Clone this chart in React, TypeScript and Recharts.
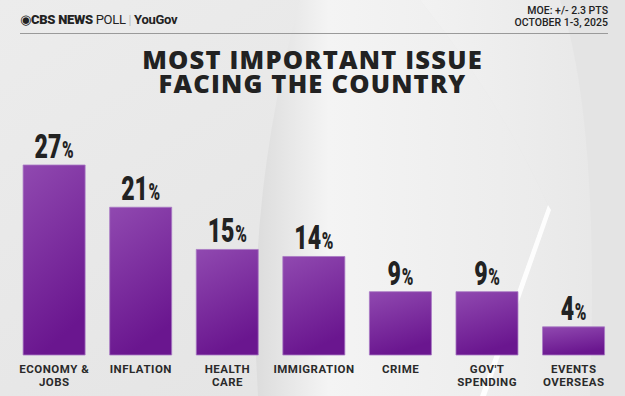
import React from 'react';
import { BarChart, Bar, XAxis, YAxis, LabelList } from 'recharts';

// Most important issue facing the country, CBS News poll Oct 1-3, 2025
const categories = ['ECONOMY &|JOBS', 'INFLATION', 'HEALTH|CARE', 'IMMIGRATION', 'CRIME', "GOV'T|SPENDING", 'EVENTS|OVERSEAS'];
const shares = [27, 21, 15, 14, 9, 9, 4];

const data = categories.map((name, i) => ({ name, value: shares[i] }));

const W = 625;
const H = 396;
const INK = '#222222';

function CategoryTick(props: any) {
  const { x, y, payload } = props;
  const lines = String(payload.value).split('|');
  return (
    <text
      x={x}
      y={y}
      textAnchor="middle"
      fill="#2a2a2a"
      fontFamily="Roboto, 'DejaVu Sans', sans-serif"
      fontWeight={700}
      fontSize={11.5}
      letterSpacing={0.5}
    >
      {lines.map((l, i) => (
        <tspan key={i} x={x} dy={i === 0 ? 10 : 12.5}>
          {l}
        </tspan>
      ))}
    </text>
  );
}

function PctLabel(props: any) {
  const { x, y, width, value } = props;
  const cx = x + width / 2;
  return (
    <g transform={`translate(${cx},${y - 7}) scale(0.68,1)`}>
      <text
        x={0}
        y={0}
        textAnchor="middle"
        fill={INK}
        fontFamily="Roboto, 'DejaVu Sans', sans-serif"
        fontWeight={900}
      >
        <tspan fontSize={34}>{value}</tspan>
        <tspan fontSize={23} dx={1}>%</tspan>
      </text>
    </g>
  );
}

function Backdrop() {
  return (
    <svg width={W} height={H} style={{ position: 'absolute', left: 0, top: 0 }}>
      <defs>
        <linearGradient id="bg" x1="0" y1="0" x2="1" y2="1">
          <stop offset="0%" stopColor="#ececec" />
          <stop offset="100%" stopColor="#e2e2e2" />
        </linearGradient>
        <linearGradient id="band" x1="0" y1="0" x2="1" y2="0">
          <stop offset="0%" stopColor="#dcdcdc" />
          <stop offset="25%" stopColor="#f4f4f4" />
          <stop offset="100%" stopColor="#ebebeb" />
        </linearGradient>
        <linearGradient id="right" x1="0" y1="0" x2="1" y2="0">
          <stop offset="0%" stopColor="#f2f2f2" />
          <stop offset="100%" stopColor="#e6e6e6" />
        </linearGradient>
      </defs>
      <rect width={W} height={H} fill="url(#bg)" />
      <path d="M300,0 Q245,200 258,396 L480,396 L548,205 Q500,100 420,0 Z" fill="url(#band)" />
      <path d="M420,0 Q500,100 548,205 L480,396 L625,396 L625,0 Z" fill="url(#right)" />
      <path d="M560,0 Q600,120 590,396 L625,396 L625,0 Z" fill="#e4e4e4" />
      <path d="M548,205 L480,396 L486,396 L551,210 Z" fill="#ffffff" opacity={0.9} />
    </svg>
  );
}

export default function App() {
  return (
    <div style={{ position: 'relative', width: W, height: H, overflow: 'hidden' }}>
      <style>{'body{margin:0}'}</style>
      <Backdrop />
      {/* header */}
      <div
        style={{
          position: 'absolute',
          left: 20,
          top: 12,
          fontFamily: "Roboto, 'DejaVu Sans', sans-serif",
          fontSize: 13,
          color: '#222',
          whiteSpace: 'nowrap',
          letterSpacing: -0.3,
        }}
      >
        <span style={{ fontWeight: 900 }}>◉CBS NEWS</span>
        <span style={{ fontWeight: 400 }}> POLL </span>
        <span style={{ color: '#aaa', fontWeight: 300 }}>|</span>
        <span style={{ fontWeight: 700 }}> YouGov</span>
      </div>
      <div
        style={{
          position: 'absolute',
          right: 17,
          top: 5,
          textAlign: 'right',
          fontFamily: "Roboto, 'DejaVu Sans', sans-serif",
          fontSize: 10.5,
          fontWeight: 500,
          lineHeight: '12px',
          color: '#222',
        }}
      >
        <div>MOE: +/- 2.3 PTS</div>
        <div>OCTOBER 1-3, 2025</div>
      </div>
      <div style={{ position: 'absolute', left: 20, top: 33, width: 588, height: 1, background: '#9a9a9a' }} />
      <div
        style={{
          position: 'absolute',
          left: 0,
          top: 47,
          width: W,
          textAlign: 'center',
          fontFamily: "'Open Sans', Roboto, sans-serif",
          fontWeight: 800,
          fontSize: 25.5,
          letterSpacing: 1.2,
          lineHeight: '24px',
          color: INK,
        }}
      >
        MOST IMPORTANT ISSUE
        <br />
        FACING THE COUNTRY
      </div>
      <BarChart
        width={W}
        height={H}
        data={data}
        margin={{ top: 165, right: 8, left: 11, bottom: 0 }}
        barCategoryGap="14%"
        style={{ position: 'absolute', left: 0, top: 0 }}
      >
        <defs>
          <linearGradient id="barFill" x1="0" y1="0" x2="0.3" y2="1">
            <stop offset="0%" stopColor="#9049b0" />
            <stop offset="100%" stopColor="#6a168f" />
          </linearGradient>
        </defs>
        <XAxis
          dataKey="name"
          interval={0}
          axisLine={false}
          tickLine={false}
          height={41}
          tick={<CategoryTick />}
        />
        <YAxis hide domain={[0, 27]} />
        <Bar dataKey="value" fill="url(#barFill)" stroke="#a878c4" strokeWidth={0.8} isAnimationActive={false}>
          <LabelList dataKey="value" content={<PctLabel />} />
        </Bar>
      </BarChart>
    </div>
  );
}
